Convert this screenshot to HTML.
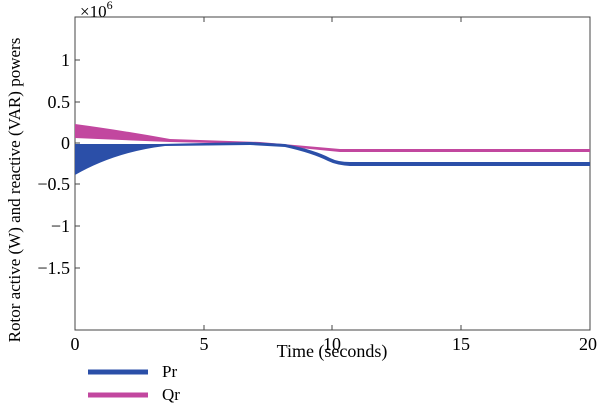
<!DOCTYPE html><html><head><style>body{margin:0;background:#fff}svg text{font-family:"Liberation Serif",serif;fill:#000}</style></head><body>
<svg width="600" height="409" viewBox="0 0 600 409">
<rect x="75" y="17" width="515" height="313" fill="none" stroke="#444" stroke-width="1"/>
<g stroke="#444">
<line x1="75" y1="60" x2="80" y2="60"/><line x1="75" y1="102" x2="80" y2="102"/><line x1="75" y1="143" x2="80" y2="143"/><line x1="75" y1="184" x2="80" y2="184"/><line x1="75" y1="226" x2="80" y2="226"/><line x1="75" y1="268" x2="80" y2="268"/>
<line x1="204" y1="330" x2="204" y2="325"/><line x1="332" y1="330" x2="332" y2="325"/><line x1="461" y1="330" x2="461" y2="325"/>
<line x1="204" y1="17" x2="204" y2="22"/><line x1="332" y1="17" x2="332" y2="22"/><line x1="461" y1="17" x2="461" y2="22"/>
</g>
<g font-size="18" text-anchor="end">
<text x="70" y="66">1</text><text x="70" y="108">0.5</text><text x="70" y="149">0</text><text x="70" y="190">−0.5</text><text x="70" y="232">−1</text><text x="70" y="274">−1.5</text></g>
<g font-size="18" text-anchor="middle"><text x="75" y="350">0</text><text x="204" y="350">5</text><text x="332" y="350">10</text><text x="461" y="350">15</text><text x="588" y="350">20</text></g>
<text x="332" y="357" font-size="18" text-anchor="middle">Time (seconds)</text>
<text x="80" y="17" font-size="17">×10<tspan font-size="12" dy="-8">6</tspan></text>
<text transform="translate(20,190) rotate(-90)" font-size="17" text-anchor="middle">Rotor active (W) and reactive (VAR) powers</text>
<path d="M75,124 Q120,130 170,139 L260,142 L340,149 L590,149 L590,152 L340,152 L260,144 L170,142 Q120,140 75,138Z" fill="#c2479f"/>
<path d="M75,144 L160,144 L250,142 L285,144 Q315,150 330,158 Q338,162 350,162 L590,162 L590,166 L350,166 Q336,165 328,161 Q312,153 285,147 L250,145 L165,146 Q115,152 75,175Z" fill="#2b4fa8"/>
<line x1="88" y1="372" x2="148" y2="372" stroke="#2b4fa8" stroke-width="5"/>
<line x1="88" y1="395" x2="148" y2="395" stroke="#c2479f" stroke-width="5"/>
<text x="162" y="377" font-size="17">Pr</text><text x="162" y="400" font-size="17">Qr</text>
</svg></body></html>
